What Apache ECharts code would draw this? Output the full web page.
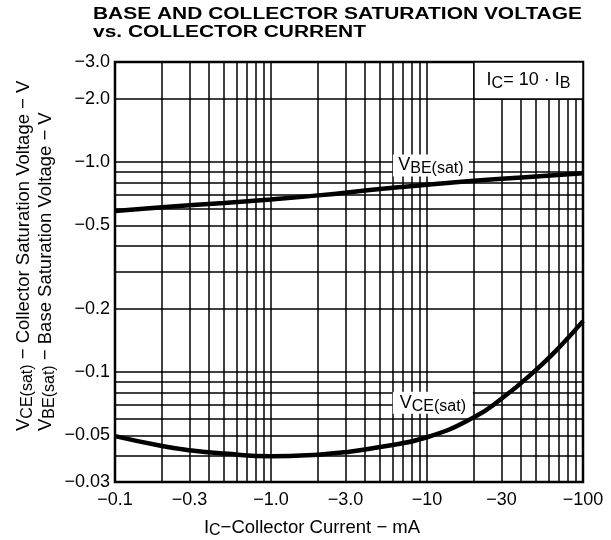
<!DOCTYPE html>
<html><head><meta charset="utf-8">
<script src="https://cdn.jsdelivr.net/npm/echarts@6/dist/echarts.min.js"></script>
<style>html,body{margin:0;padding:0;background:#fff}#c{width:611px;height:540px}</style>
</head><body><div id="c"></div>
<script>
const titleLine1 = 'BASE AND COLLECTOR SATURATION VOLTAGE';
const titleLine2 = 'vs. COLLECTOR CURRENT';
const xGrid = [0.1,0.2,0.3,0.4,0.5,0.6,0.7,0.8,0.9,1,2,3,4,5,6,7,8,9,10,20,30,40,50,60,70,80,90,100];
const yGrid = [0.03,0.04,0.05,0.06,0.07,0.08,0.09,0.1,0.2,0.3,0.4,0.5,0.6,0.7,0.8,0.9,1,2,3];
const xTickValues = [0.1,0.3,1,3,10,30,100];
const xTickLabels = ['−0.1','−0.3','−1.0','−3.0','−10','−30','−100'];
const yTickValues = [0.03,0.05,0.1,0.2,0.5,1,2,3];
const yTickLabels = ['−0.03','−0.05','−0.1','−0.2','−0.5','−1.0','−2.0','−3.0'];
const icVBE = [0.1,0.2,0.5,1,2,5,10,20,50,100];
const vbe = [0.585,0.61,0.64,0.665,0.695,0.745,0.78,0.815,0.855,0.885];
const icVCE = [0.1,0.2,0.3,0.5,1,2,3,5,10,20,30,50,70,100];
const vce = [0.0496,0.0445,0.0425,0.041,0.0398,0.0405,0.0416,0.044,0.049,0.061,0.0747,0.1026,0.1307,0.175];

const FONT = 'Liberation Sans';
const chart = echarts.init(document.getElementById('c'), null, {renderer:'canvas'});
function lab(list, vals){ return v => { for (let i=0;i<vals.length;i++) if (Math.abs(vals[i]-v)/vals[i] < 1e-6) return list[i]; return ''; }; }

const mctx = document.createElement('canvas').getContext('2d');
mctx.font = 'bold 16px "Liberation Sans"';
const tScale = 489 / mctx.measureText(titleLine1).width;

const subRich = {
  n:{fontFamily:FONT,fontSize:18.5,color:'#000'},
  s:{fontFamily:FONT,fontSize:16,color:'#000',padding:[7,0,0,0]}
};
const lblRich = {
  n:{fontFamily:FONT,fontSize:18,color:'#000'},
  s:{fontFamily:FONT,fontSize:16,color:'#000',padding:[7,0,0,0]}
};

chart.setOption({
  animation:false,
  grid:{left:115,top:62,width:468,height:420,show:true,borderColor:'#000',borderWidth:2.5,containLabel:false,outerBoundsMode:'none'},
  xAxis:{type:'log',min:0.1,max:100,logBase:10,
    axisLine:{show:false},
    axisTick:{show:false,customValues:xGrid},
    splitLine:{show:true,lineStyle:{color:'#000',width:1.5}},
    axisLabel:{customValues:xTickValues,formatter:lab(xTickLabels,xTickValues),color:'#000',fontFamily:FONT,fontSize:18,margin:9},
    name:'{n|I}{s|C}{n|−Collector Current − mA}',
    nameLocation:'middle',nameGap:34,
    nameTextStyle:{rich:subRich,padding:[0,74,0,0]}
  },
  yAxis:{type:'log',min:0.03,max:3,logBase:10,
    axisLine:{show:false},
    axisTick:{show:false,customValues:yGrid},
    splitLine:{show:true,lineStyle:{color:'#000',width:1.5}},
    axisLabel:{customValues:yTickValues,formatter:lab(yTickLabels,yTickValues),color:'#000',fontFamily:FONT,fontSize:18,margin:5}
  },
  graphic:[
    {type:'text',x:93,y:7,scaleX:tScale,style:{text:titleLine1,font:'bold 16px "Liberation Sans"',fill:'#000'}},
    {type:'text',x:93,y:25,scaleX:tScale,style:{text:titleLine2,font:'bold 16px "Liberation Sans"',fill:'#000'}},
    {type:'text',x:24,y:431,rotation:Math.PI/2,style:{text:'{n|V}{s|CE(sat)}{n| − Collector Saturation Voltage − V}',rich:subRich,align:'left',verticalAlign:'middle'}},
    {type:'text',x:46,y:431,rotation:Math.PI/2,style:{text:'{n|V}{s|BE(sat)}{n| − Base Saturation Voltage − V}',rich:subRich,align:'left',verticalAlign:'middle'}}
  ],
  series:[
    {type:'line',data:icVBE.map((x,i)=>[x,vbe[i]]),smooth:true,symbol:'none',lineStyle:{color:'#000',width:4.5},
     markArea:{silent:true,itemStyle:{color:'#fff',borderColor:'#000',borderWidth:1.5},
       label:{show:true,position:'inside',formatter:'{n|I}{s|C}{n|= 10 · I}{s|B}',rich:lblRich},
       data:[[{coord:[20,2]},{coord:[100,3]}]]},
     markPoint:{silent:true,symbol:'rect',symbolSize:[76,22],itemStyle:{color:'#fff'},
       label:{show:true,position:'inside',formatter:'{n|V}{s|BE(sat)}',rich:lblRich},
       data:[{coord:[10.6,0.965]}]}
    },
    {type:'line',data:icVCE.map((x,i)=>[x,vce[i]]),smooth:true,symbol:'none',lineStyle:{color:'#000',width:4.5},
     markPoint:{silent:true,symbol:'rect',symbolSize:[80,22],itemStyle:{color:'#fff'},
       label:{show:true,position:'inside',formatter:'{n|V}{s|CE(sat)}',rich:lblRich},
       data:[{coord:[10.9,0.0716]}]}
    }
  ]
});
</script></body></html>
